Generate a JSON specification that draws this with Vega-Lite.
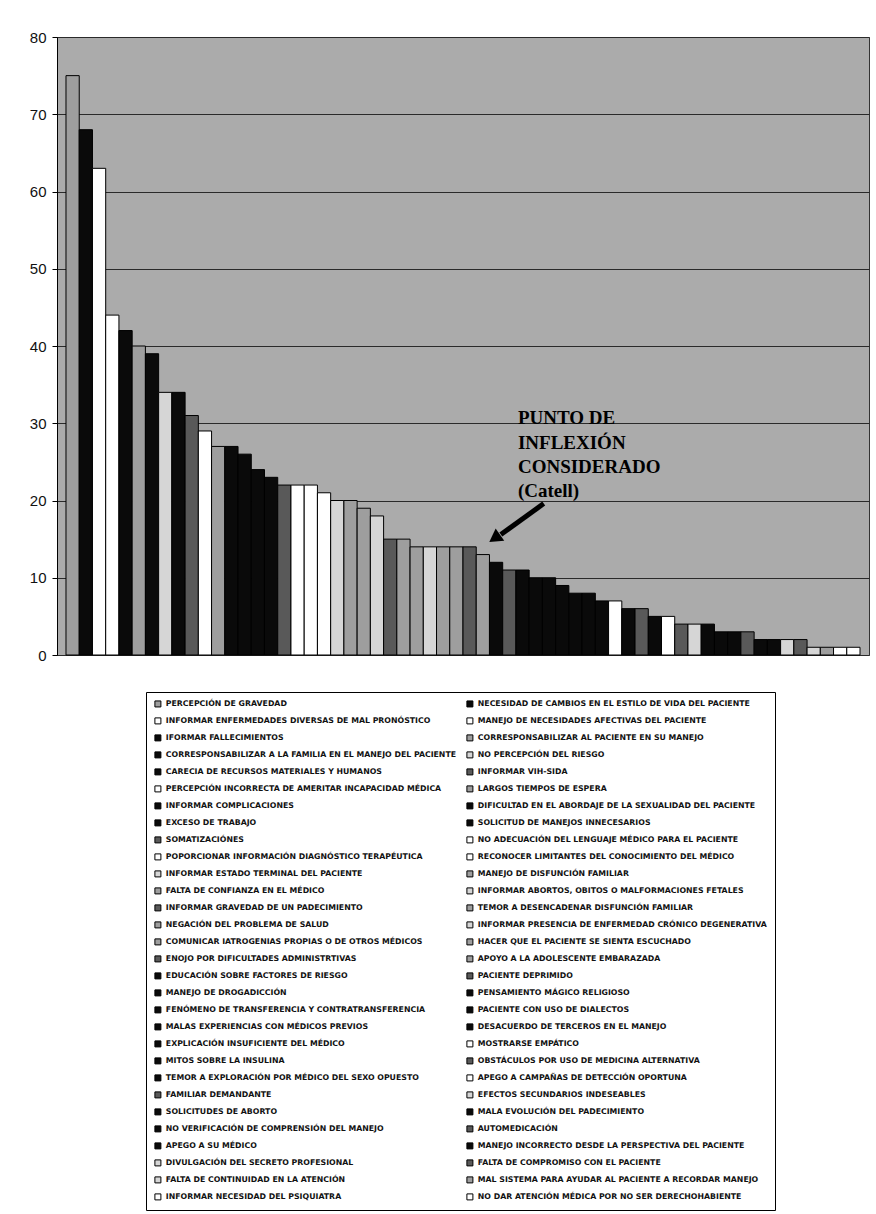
{
  "$schema": "https://vega.github.io/schema/vega-lite/v6.json",
  "width": 812,
  "height": 618,
  "autosize": {"type": "none"},
  "padding": {"left": 57, "top": 37, "right": 7, "bottom": 559},
  "background": "#ffffff",
  "config": {
    "view": {"fill": "#ababab", "stroke": "#333333", "strokeWidth": 1},
    "font": "Liberation Sans"
  },
  "datasets": {
    "factors": [
      {"rank": 1, "factor": "PERCEPCIÓN DE GRAVEDAD", "value": 75},
      {"rank": 2, "factor": "NECESIDAD DE CAMBIOS EN EL ESTILO DE VIDA DEL PACIENTE", "value": 68},
      {"rank": 3, "factor": "INFORMAR ENFERMEDADES DIVERSAS DE MAL PRONÓSTICO", "value": 63},
      {"rank": 4, "factor": "MANEJO DE NECESIDADES AFECTIVAS DEL PACIENTE", "value": 44},
      {"rank": 5, "factor": "IFORMAR FALLECIMIENTOS", "value": 42},
      {"rank": 6, "factor": "CORRESPONSABILIZAR AL PACIENTE EN SU MANEJO", "value": 40},
      {"rank": 7, "factor": "CORRESPONSABILIZAR A LA FAMILIA EN EL MANEJO DEL PACIENTE", "value": 39},
      {"rank": 8, "factor": "NO PERCEPCIÓN DEL RIESGO", "value": 34},
      {"rank": 9, "factor": "CARECIA DE RECURSOS MATERIALES Y HUMANOS", "value": 34},
      {"rank": 10, "factor": "INFORMAR VIH-SIDA", "value": 31},
      {"rank": 11, "factor": "PERCEPCIÓN INCORRECTA DE AMERITAR INCAPACIDAD MÉDICA", "value": 29},
      {"rank": 12, "factor": "LARGOS TIEMPOS DE ESPERA", "value": 27},
      {"rank": 13, "factor": "INFORMAR COMPLICACIONES", "value": 27},
      {"rank": 14, "factor": "DIFICULTAD EN EL ABORDAJE DE LA SEXUALIDAD DEL PACIENTE", "value": 26},
      {"rank": 15, "factor": "EXCESO DE TRABAJO", "value": 24},
      {"rank": 16, "factor": "SOLICITUD DE MANEJOS INNECESARIOS", "value": 23},
      {"rank": 17, "factor": "SOMATIZACIÓNES", "value": 22},
      {"rank": 18, "factor": "NO ADECUACIÓN DEL LENGUAJE MÉDICO PARA EL PACIENTE", "value": 22},
      {"rank": 19, "factor": "POPORCIONAR INFORMACIÓN DIAGNÓSTICO TERAPÉUTICA", "value": 22},
      {"rank": 20, "factor": "RECONOCER LIMITANTES DEL CONOCIMIENTO DEL MÉDICO", "value": 21},
      {"rank": 21, "factor": "INFORMAR ESTADO TERMINAL DEL PACIENTE", "value": 20},
      {"rank": 22, "factor": "MANEJO DE DISFUNCIÓN FAMILIAR", "value": 20},
      {"rank": 23, "factor": "FALTA DE CONFIANZA EN EL MÉDICO", "value": 19},
      {"rank": 24, "factor": "INFORMAR ABORTOS, OBITOS O MALFORMACIONES FETALES", "value": 18},
      {"rank": 25, "factor": "INFORMAR GRAVEDAD DE UN PADECIMIENTO", "value": 15},
      {"rank": 26, "factor": "TEMOR A DESENCADENAR DISFUNCIÓN FAMILIAR", "value": 15},
      {"rank": 27, "factor": "NEGACIÓN DEL PROBLEMA DE SALUD", "value": 14},
      {"rank": 28, "factor": "INFORMAR PRESENCIA DE ENFERMEDAD CRÓNICO DEGENERATIVA", "value": 14},
      {"rank": 29, "factor": "COMUNICAR IATROGENIAS PROPIAS O DE OTROS MÉDICOS", "value": 14},
      {"rank": 30, "factor": "HACER QUE EL PACIENTE SE SIENTA ESCUCHADO", "value": 14},
      {"rank": 31, "factor": "ENOJO POR DIFICULTADES ADMINISTRTIVAS", "value": 14},
      {"rank": 32, "factor": "APOYO A LA ADOLESCENTE EMBARAZADA", "value": 13},
      {"rank": 33, "factor": "EDUCACIÓN SOBRE FACTORES DE RIESGO", "value": 12},
      {"rank": 34, "factor": "PACIENTE DEPRIMIDO", "value": 11},
      {"rank": 35, "factor": "MANEJO DE DROGADICCIÓN", "value": 11},
      {"rank": 36, "factor": "PENSAMIENTO MÁGICO RELIGIOSO", "value": 10},
      {"rank": 37, "factor": "FENÓMENO DE TRANSFERENCIA Y CONTRATRANSFERENCIA", "value": 10},
      {"rank": 38, "factor": "PACIENTE CON USO DE DIALECTOS", "value": 9},
      {"rank": 39, "factor": "MALAS EXPERIENCIAS CON MÉDICOS PREVIOS", "value": 8},
      {"rank": 40, "factor": "DESACUERDO DE TERCEROS EN EL MANEJO", "value": 8},
      {"rank": 41, "factor": "EXPLICACIÓN INSUFICIENTE DEL MÉDICO", "value": 7},
      {"rank": 42, "factor": "MOSTRARSE EMPÁTICO", "value": 7},
      {"rank": 43, "factor": "MITOS SOBRE LA INSULINA", "value": 6},
      {"rank": 44, "factor": "OBSTÁCULOS POR USO DE MEDICINA ALTERNATIVA", "value": 6},
      {"rank": 45, "factor": "TEMOR A EXPLORACIÓN POR MÉDICO DEL SEXO OPUESTO", "value": 5},
      {"rank": 46, "factor": "APEGO A CAMPAÑAS DE DETECCIÓN OPORTUNA", "value": 5},
      {"rank": 47, "factor": "FAMILIAR DEMANDANTE", "value": 4},
      {"rank": 48, "factor": "EFECTOS SECUNDARIOS INDESEABLES", "value": 4},
      {"rank": 49, "factor": "SOLICITUDES DE ABORTO", "value": 4},
      {"rank": 50, "factor": "MALA EVOLUCIÓN DEL PADECIMIENTO", "value": 3},
      {"rank": 51, "factor": "NO VERIFICACIÓN DE COMPRENSIÓN DEL MANEJO", "value": 3},
      {"rank": 52, "factor": "AUTOMEDICACIÓN", "value": 3},
      {"rank": 53, "factor": "APEGO A SU MÉDICO", "value": 2},
      {"rank": 54, "factor": "MANEJO INCORRECTO DESDE LA PERSPECTIVA DEL PACIENTE", "value": 2},
      {"rank": 55, "factor": "DIVULGACIÓN DEL SECRETO PROFESIONAL", "value": 2},
      {"rank": 56, "factor": "FALTA DE COMPROMISO CON EL PACIENTE", "value": 2},
      {"rank": 57, "factor": "FALTA DE CONTINUIDAD EN LA ATENCIÓN", "value": 1},
      {"rank": 58, "factor": "MAL SISTEMA PARA AYUDAR AL PACIENTE A RECORDAR MANEJO", "value": 1},
      {"rank": 59, "factor": "INFORMAR NECESIDAD DEL PSIQUIATRA", "value": 1},
      {"rank": 60, "factor": "NO DAR ATENCIÓN MÉDICA POR NO SER DERECHOHABIENTE", "value": 1}
    ],
    "note": [
      {"rank": 35, "y": 29.9, "line": "PUNTO DE"},
      {"rank": 35, "y": 26.7, "line": "INFLEXIÓN"},
      {"rank": 35, "y": 23.6, "line": "CONSIDERADO"},
      {"rank": 35, "y": 20.5, "line": "(Catell)"}
    ],
    "arrow": [
      {"rank": 37, "y": 19.6, "rank2": 33, "y2": 15.6}
    ],
    "head": [
      {"rank": 33, "y": 15.1}
    ]
  },
  "layer": [
    {
      "data": {"name": "factors"},
      "mark": {"type": "bar", "stroke": "#000000", "strokeWidth": 1},
      "encoding": {
        "x": {
          "field": "rank",
          "type": "ordinal",
          "scale": {
            "domain": [1,2,3,4,5,6,7,8,9,10,11,12,13,14,15,16,17,18,19,20,21,22,23,24,25,26,27,28,29,30,31,32,33,34,35,36,37,38,39,40,41,42,43,44,45,46,47,48,49,50,51,52,53,54,55,56,57,58,59,60],
            "paddingInner": 0,
            "paddingOuter": 0.68
          },
          "axis": null
        },
        "y": {
          "field": "value",
          "type": "quantitative",
          "scale": {"domain": [0, 80], "nice": false},
          "axis": {
            "title": null,
            "values": [0, 10, 20, 30, 40, 50, 60, 70, 80],
            "grid": true,
            "gridColor": "#2a2a2a",
            "gridWidth": 1,
            "domainColor": "#000000",
            "tickColor": "#000000",
            "tickSize": 5,
            "labelFont": "Liberation Sans",
            "labelFontSize": 15,
            "labelColor": "#111111",
            "labelPadding": 6
          }
        },
        "color": {
          "field": "factor",
          "type": "nominal",
          "scale": {
            "domain": [
              "PERCEPCIÓN DE GRAVEDAD",
              "NECESIDAD DE CAMBIOS EN EL ESTILO DE VIDA DEL PACIENTE",
              "INFORMAR ENFERMEDADES DIVERSAS DE MAL PRONÓSTICO",
              "MANEJO DE NECESIDADES AFECTIVAS DEL PACIENTE",
              "IFORMAR FALLECIMIENTOS",
              "CORRESPONSABILIZAR AL PACIENTE EN SU MANEJO",
              "CORRESPONSABILIZAR A LA FAMILIA EN EL MANEJO DEL PACIENTE",
              "NO PERCEPCIÓN DEL RIESGO",
              "CARECIA DE RECURSOS MATERIALES Y HUMANOS",
              "INFORMAR VIH-SIDA",
              "PERCEPCIÓN INCORRECTA DE AMERITAR INCAPACIDAD MÉDICA",
              "LARGOS TIEMPOS DE ESPERA",
              "INFORMAR COMPLICACIONES",
              "DIFICULTAD EN EL ABORDAJE DE LA SEXUALIDAD DEL PACIENTE",
              "EXCESO DE TRABAJO",
              "SOLICITUD DE MANEJOS INNECESARIOS",
              "SOMATIZACIÓNES",
              "NO ADECUACIÓN DEL LENGUAJE MÉDICO PARA EL PACIENTE",
              "POPORCIONAR INFORMACIÓN DIAGNÓSTICO TERAPÉUTICA",
              "RECONOCER LIMITANTES DEL CONOCIMIENTO DEL MÉDICO",
              "INFORMAR ESTADO TERMINAL DEL PACIENTE",
              "MANEJO DE DISFUNCIÓN FAMILIAR",
              "FALTA DE CONFIANZA EN EL MÉDICO",
              "INFORMAR ABORTOS, OBITOS O MALFORMACIONES FETALES",
              "INFORMAR GRAVEDAD DE UN PADECIMIENTO",
              "TEMOR A DESENCADENAR DISFUNCIÓN FAMILIAR",
              "NEGACIÓN DEL PROBLEMA DE SALUD",
              "INFORMAR PRESENCIA DE ENFERMEDAD CRÓNICO DEGENERATIVA",
              "COMUNICAR IATROGENIAS PROPIAS O DE OTROS MÉDICOS",
              "HACER QUE EL PACIENTE SE SIENTA ESCUCHADO",
              "ENOJO POR DIFICULTADES ADMINISTRTIVAS",
              "APOYO A LA ADOLESCENTE EMBARAZADA",
              "EDUCACIÓN SOBRE FACTORES DE RIESGO",
              "PACIENTE DEPRIMIDO",
              "MANEJO DE DROGADICCIÓN",
              "PENSAMIENTO MÁGICO RELIGIOSO",
              "FENÓMENO DE TRANSFERENCIA Y CONTRATRANSFERENCIA",
              "PACIENTE CON USO DE DIALECTOS",
              "MALAS EXPERIENCIAS CON MÉDICOS PREVIOS",
              "DESACUERDO DE TERCEROS EN EL MANEJO",
              "EXPLICACIÓN INSUFICIENTE DEL MÉDICO",
              "MOSTRARSE EMPÁTICO",
              "MITOS SOBRE LA INSULINA",
              "OBSTÁCULOS POR USO DE MEDICINA ALTERNATIVA",
              "TEMOR A EXPLORACIÓN POR MÉDICO DEL SEXO OPUESTO",
              "APEGO A CAMPAÑAS DE DETECCIÓN OPORTUNA",
              "FAMILIAR DEMANDANTE",
              "EFECTOS SECUNDARIOS INDESEABLES",
              "SOLICITUDES DE ABORTO",
              "MALA EVOLUCIÓN DEL PADECIMIENTO",
              "NO VERIFICACIÓN DE COMPRENSIÓN DEL MANEJO",
              "AUTOMEDICACIÓN",
              "APEGO A SU MÉDICO",
              "MANEJO INCORRECTO DESDE LA PERSPECTIVA DEL PACIENTE",
              "DIVULGACIÓN DEL SECRETO PROFESIONAL",
              "FALTA DE COMPROMISO CON EL PACIENTE",
              "FALTA DE CONTINUIDAD EN LA ATENCIÓN",
              "MAL SISTEMA PARA AYUDAR AL PACIENTE A RECORDAR MANEJO",
              "INFORMAR NECESIDAD DEL PSIQUIATRA",
              "NO DAR ATENCIÓN MÉDICA POR NO SER DERECHOHABIENTE"
            ],
            "range": [
              "#9e9e9e", "#0a0a0a", "#ffffff", "#ffffff", "#0a0a0a", "#9e9e9e", "#0a0a0a", "#d6d6d6", "#0a0a0a", "#595959",
              "#ffffff", "#9e9e9e", "#0a0a0a", "#0a0a0a", "#0a0a0a", "#0a0a0a", "#595959", "#ffffff", "#ffffff", "#ffffff",
              "#d6d6d6", "#9e9e9e", "#9e9e9e", "#d6d6d6", "#595959", "#9e9e9e", "#9e9e9e", "#d6d6d6", "#9e9e9e", "#9e9e9e",
              "#595959", "#9e9e9e", "#0a0a0a", "#595959", "#0a0a0a", "#0a0a0a", "#0a0a0a", "#0a0a0a", "#0a0a0a", "#0a0a0a",
              "#0a0a0a", "#ffffff", "#0a0a0a", "#595959", "#0a0a0a", "#ffffff", "#595959", "#d6d6d6", "#0a0a0a", "#0a0a0a",
              "#0a0a0a", "#595959", "#0a0a0a", "#0a0a0a", "#d6d6d6", "#595959", "#d6d6d6", "#9e9e9e", "#ffffff", "#ffffff"
            ]
          },
          "legend": {
            "title": null,
            "orient": "none",
            "legendX": 89,
            "legendY": 655,
            "direction": "horizontal",
            "columns": 2,
            "symbolLimit": 0,
            "symbolType": "square",
            "symbolSize": 36,
            "symbolStrokeColor": "#000000",
            "symbolStrokeWidth": 1,
            "symbolOpacity": 1,
            "labelFont": "DejaVu Sans",
            "labelFontSize": 7.8,
            "labelFontWeight": "bold",
            "labelColor": "#111111",
            "labelLimit": 0,
            "labelOffset": 4,
            "rowPadding": 6,
            "columnPadding": 7,
            "padding": 8,
            "strokeColor": "#000000",
            "fillColor": "#ffffff"
          }
        }
      }
    },
    {
      "data": {"name": "note"},
      "mark": {"type": "text", "align": "left", "baseline": "alphabetic", "font": "Liberation Serif", "fontSize": 19, "fontWeight": "bold", "color": "#000000"},
      "encoding": {
        "x": {"field": "rank", "type": "ordinal", "bandPosition": 0.15},
        "y": {"field": "y", "type": "quantitative"},
        "text": {"field": "line", "type": "nominal"}
      }
    },
    {
      "data": {"name": "arrow"},
      "mark": {"type": "rule", "color": "#000000", "strokeWidth": 5, "strokeCap": "butt"},
      "encoding": {
        "x": {"field": "rank", "type": "ordinal", "bandPosition": 0.1},
        "x2": {"field": "rank2", "bandPosition": 0.86},
        "y": {"field": "y", "type": "quantitative"},
        "y2": {"field": "y2"}
      }
    },
    {
      "data": {"name": "head"},
      "mark": {"type": "point", "shape": "triangle-up", "angle": 235, "filled": true, "size": 225, "color": "#000000", "opacity": 1},
      "encoding": {
        "x": {"field": "rank", "type": "ordinal", "bandPosition": 0.39},
        "y": {"field": "y", "type": "quantitative"}
      }
    }
  ]
}
